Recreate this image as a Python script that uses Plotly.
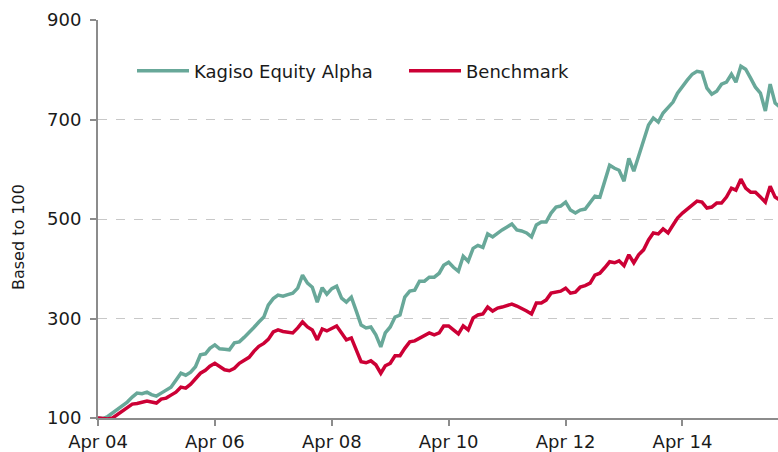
import plotly.graph_objects as go
import pandas as pd

# Monthly observations, Apr 2004 .. Dec 2015 (based to 100)
dates = pd.date_range("2004-04-01", periods=141, freq="MS")

kagiso = [
    100, 99, 103, 110, 117, 124, 132, 142, 150, 149, 152, 147,
    144, 150, 156, 162, 176, 190, 186, 192, 203, 227, 229, 240,
    247, 239, 238, 237, 251, 253, 262, 271, 282, 293, 303, 327,
    340, 347, 345, 348, 351, 361, 387, 371, 363, 333, 362, 349,
    360, 365, 341, 333, 343, 315, 287, 281, 283, 267, 243, 271,
    283, 303, 307, 343, 355, 357, 375, 375, 383, 383, 391, 407,
    413, 403, 395, 425, 415, 441, 447, 443, 470, 464, 472, 478,
    484, 490, 478, 476, 472, 464, 488, 494, 494, 512, 524, 526,
    534, 518, 512, 518, 520, 532, 546, 544, 578, 608, 602, 598,
    576, 622, 596, 628, 662, 689, 703, 695, 713, 723, 735, 753,
    767, 779, 791, 797, 795, 763, 751, 757, 771, 775, 791, 775,
    807, 801, 783, 765, 753, 717, 771, 733, 725,
]

benchmark = [
    100, 99, 98, 100, 107, 113, 120, 128, 129, 131, 134, 132,
    130, 138, 140, 146, 152, 162, 160, 168, 178, 190, 196, 204,
    210, 203, 197, 195, 200, 210, 216, 222, 234, 244, 250, 258,
    273, 277, 274, 272, 271, 281, 293, 283, 277, 257, 279, 275,
    281, 285, 271, 257, 261, 238, 213, 211, 215, 207, 190, 205,
    210, 225, 225, 240, 253, 255, 260, 265, 271, 267, 271, 285,
    285, 277, 269, 285, 277, 301, 307, 309, 323, 315, 321, 323,
    327, 329, 325, 321, 315, 309, 331, 331, 337, 351, 353, 355,
    361, 351, 353, 363, 366, 371, 387, 391, 402, 414, 412, 416,
    406, 428, 412, 428, 438, 458, 472, 470, 480, 472, 488, 502,
    512, 520, 528, 536, 534, 522, 524, 532, 532, 544, 562, 558,
    580, 562, 554, 554, 544, 534, 566, 544, 538,
]

series_names = ["Kagiso Equity Alpha", "Benchmark"]
series_colors = ["#68A899", "#CC0035"]

x_tickvals = ["2004-04-01", "2006-04-01", "2008-04-01", "2010-04-01",
              "2012-04-01", "2014-04-01"]
x_ticktext = ["Apr 04", "Apr 06", "Apr 08", "Apr 10", "Apr 12", "Apr 14"]
y_tickvals = [100, 300, 500, 700, 900]

FONT = "DejaVu Sans, Verdana, sans-serif"

W, H = 778, 452
ML, MR, MT, MB = 98, 0, 20, 34
PW = W - ML - MR
PH = H - MT - MB

fig = go.Figure()
for name, vals, col in zip(series_names, [kagiso, benchmark], series_colors):
    fig.add_trace(go.Scatter(
        x=dates, y=vals, mode="lines", name=name,
        line=dict(color=col, width=3.5),
        hoverinfo="skip",
    ))

fig.update_layout(
    width=W, height=H,
    margin=dict(l=ML, r=MR, t=MT, b=MB, autoexpand=False),
    paper_bgcolor="white", plot_bgcolor="white",
    font=dict(family=FONT, size=18, color="#1a1a1a"),
    showlegend=True,
    legend=dict(
        orientation="h", x=34 / PW, y=(PH - 51) / PH,
        xanchor="left", yanchor="middle",
        font=dict(family=FONT, size=18, color="#1a1a1a"),
        bgcolor="rgba(0,0,0,0)", itemwidth=52, entrywidth=205,
    ),
    xaxis=dict(
        range=["2004-04-01", "2015-11-19"],
        tickvals=x_tickvals, ticktext=x_ticktext,
        showgrid=False, zeroline=False,
        showline=True, linecolor="#8c8c8c", linewidth=2,
        ticks="outside", ticklen=6, tickwidth=2, tickcolor="#8c8c8c",
        tickfont=dict(family=FONT, size=18, color="#1a1a1a"),
    ),
    yaxis=dict(
        range=[100, 900], tickvals=y_tickvals,
        showgrid=True, gridcolor="#c8c8c8", griddash="dash", gridwidth=1,
        zeroline=False,
        showline=True, linecolor="#8c8c8c", linewidth=2,
        ticks="outside", ticklen=6, tickwidth=2, tickcolor="#8c8c8c",
        tickfont=dict(family=FONT, size=18, color="#1a1a1a"),
        ticklabelstandoff=5,
    ),
    annotations=[dict(
        text="Based to 100", textangle=-90,
        xref="paper", yref="paper", x=-(98 - 18) / PW, y=(PH - 217) / PH,
        xanchor="center", yanchor="middle", showarrow=False,
        font=dict(family=FONT, size=16, color="#1a1a1a"),
    )],
)

fig.write_html(
    "out.html",
    config={"displayModeBar": False, "staticPlot": True},
    post_script="document.body.style.margin='0';"
                "document.body.style.overflow='hidden';",
)
